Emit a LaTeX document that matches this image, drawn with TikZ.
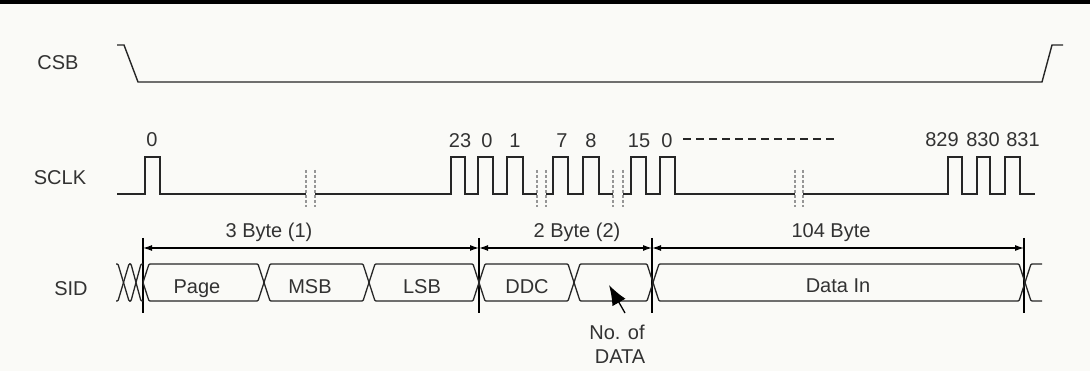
\documentclass[tikz,border=0pt]{standalone}
\usepackage{fontspec}
\setmainfont{Liberation Sans}
\usetikzlibrary{arrows.meta}
\definecolor{bg}{RGB}{250,250,247}
\definecolor{ink}{RGB}{38,38,38}
\definecolor{txt}{RGB}{50,50,50}
\definecolor{brk}{RGB}{150,150,150}
\begin{document}
\begin{tikzpicture}[x=1pt,y=-1pt,
  wave/.style={draw=ink, line width=1.4pt, line join=miter},
  bus/.style={draw=ink, line width=1.3pt, rounded corners=1pt},
  brkline/.style={draw=brk, line width=1.2pt, dash pattern=on 3pt off 2pt},
  dimtick/.style={draw=black, line width=1.2pt},
  dimarrow/.style={draw=black, line width=1.2pt, {Latex[length=9pt,width=6pt]}-{Latex[length=9pt,width=6pt]}},
  lbl/.style={font=\fontsize{20}{23}\selectfont, text=txt, inner sep=0pt, anchor=base}]
\fill[bg] (0,0) rectangle (1090,371);
\fill[black] (0,0) rectangle (1090,4);
\useasboundingbox (0,0) rectangle (1090,371);

% signal names
\node[lbl] (csbl) at (58,70) {CSB};
\node[lbl] (sclkl) at (60,185) {SCLK};
\node[lbl] (sidl) at (71,296) {SID};

% CSB
\draw[wave] (117,45) -- (124,45) -- (138,82) -- (1042,82) -- (1052,45) -- (1063,45);

% SCLK
\draw[wave] (117,194) -- (145,194) -- (145,157) -- (160,157) -- (160,194) -- (306,194);
\draw[wave] (315,194) -- (451,194) -- (451,157) -- (465,157) -- (465,194) -- (478,194)
  -- (478,157) -- (493,157) -- (493,194) -- (507,194) -- (507,157) -- (523,157) -- (523,194) -- (537,194);
\draw[wave] (546,194) -- (553,194) -- (553,157) -- (568,157) -- (568,194) -- (583,194)
  -- (583,157) -- (599,157) -- (599,194) -- (613,194);
\draw[wave] (623,194) -- (631,194) -- (631,157) -- (646,157) -- (646,194) -- (660,194)
  -- (660,157) -- (675,157) -- (675,194) -- (795,194);
\draw[wave] (803,194) -- (948,194) -- (948,157) -- (962,157) -- (962,194) -- (977,194)
  -- (977,157) -- (990,157) -- (990,194) -- (1005,194) -- (1005,157) -- (1020,157) -- (1020,194) -- (1035,194);
\foreach \x in {306,315,537,546,613,623,795,803}
  \draw[brkline] (\x,170) -- (\x,207);

% SCLK numbers
\node[lbl] (n0a) at (152,147) {0};
\node[lbl] (n23) at (460,148) {23};
\node[lbl] (n0b) at (487,148) {0};
\node[lbl] (n1) at (515,148) {1};
\node[lbl] (n7) at (562,148) {7};
\node[lbl] (n8) at (591,148) {8};
\node[lbl] (n15) at (639,148) {15};
\node[lbl] (n0c) at (667,148) {0};
\node[lbl] (n829) at (942,147) {829};
\node[lbl] (n830) at (983,147) {830};
\node[lbl] (n831) at (1023,147) {831};
\draw[draw=ink, line width=1.2pt, dash pattern=on 8pt off 5pt] (683,139) -- (838,139);

% dimension lines
\foreach \x in {143,479,652,1024}
  \draw[dimtick] (\x,238) -- (\x,313);
\coordinate (d1) at (143,248);
\coordinate (d2) at (479,248);
\coordinate (d3) at (652,248);
\coordinate (d4) at (1024,248);
\draw[dimarrow] (d1) -- (d2);
\draw[dimarrow] (d2) -- (d3);
\draw[dimarrow] (d3) -- (d4);
\node[lbl] (b3) at (269,238) {3 Byte (1)};
\node[lbl] (b2) at (577,238) {2 Byte (2)};
\node[lbl] (b104) at (831,238) {104 Byte};

% SID bus
\draw[bus] (116,264) -- (118,264) -- (129,301) -- (131,301);
\draw[bus] (116,301) -- (118,301) -- (129,264) -- (131,264);
\draw[bus] (129,264) -- (131,264) -- (141,301) -- (143,301);
\draw[bus] (129,301) -- (131,301) -- (141,264) -- (143,264);
\foreach \a/\b in {143/264,264/369,369/479,479/574,574/653,653/1025}
  \draw[bus] (\a,282.5) -- ({\a+6},264) -- ({\b-6},264) -- (\b,282.5) -- ({\b-6},301) -- ({\a+6},301) -- cycle;
\draw[bus] (1042,264) -- (1031,264) -- (1025,282.5) -- (1031,301) -- (1042,301);

\node[lbl] (page) at (197,294) {Page};
\node[lbl] (msb) at (310,294) {MSB};
\node[lbl] (lsb) at (422,294) {LSB};
\node[lbl] (ddc) at (527,294) {DDC};
\node[lbl] (datain) at (838,293) {Data In};

% No. of DATA
\node[lbl] (nod1) at (617,340) {No. of};
\node[lbl] (nod2) at (620,363) {DATA};
\coordinate (ndtail) at (625,313);
\coordinate (ndtip) at (609,285);
\draw[draw=black, line width=1.3pt, -{Latex[length=20pt,width=15pt]}] (ndtail) -- (ndtip);
\end{tikzpicture}
\end{document}
